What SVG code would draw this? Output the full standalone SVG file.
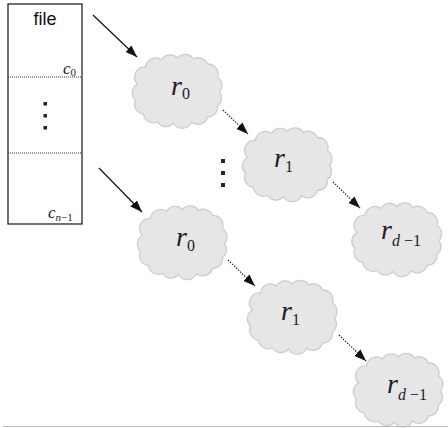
<svg xmlns="http://www.w3.org/2000/svg" width="448" height="428" viewBox="0 0 448 428">
  <style>
    .box { fill: #fff; stroke: #111; stroke-width: 1.2; }
    .sep { stroke: #333; stroke-width: 1; stroke-dasharray: 1 1; }
    .cloud { fill: #e6e6e6; stroke: #cdcdcd; stroke-width: 1.3; }
    .solid { stroke: #111; stroke-width: 1.2; fill: none; }
    .dotted { stroke: #222; stroke-width: 1.2; fill: none; stroke-dasharray: 1.4 1.4; }
    .dot { fill: #23232e; }
    .lbl { font-family: "Liberation Serif", "Times New Roman", serif; fill: #1c1c2a; }
    .var { font-style: italic; }
    .sans { font-family: "Liberation Sans", Arial, sans-serif; fill: #111; }
  </style>
  <defs>
    <marker id="head" viewBox="0 0 12 9" refX="12" refY="4.5" markerWidth="12" markerHeight="9" markerUnits="userSpaceOnUse" orient="auto">
      <path d="M0,0 L12,4.5 L0,9 Z" fill="#111"/>
    </marker>
    <!-- bumpy cloud outline, centred on the origin, about 90 x 74 -->
    <path id="cloud" class="cloud" d="M-40,-6 A10,10 0 0 1 -32,-23 A10,10 0 0 1 -16,-30 A10,10 0 0 1 0,-32 A10,10 0 0 1 16,-31 A10,10 0 0 1 30,-26 A10,10 0 0 1 40,-13 A10,10 0 0 1 42,2 A10,10 0 0 1 40,16 A10,10 0 0 1 30,27 A10,10 0 0 1 14,32 A10,10 0 0 1 -4,33 A10,10 0 0 1 -20,32 A10,10 0 0 1 -34,24 A10,10 0 0 1 -42,10 A10,10 0 0 1 -40,-6 Z"/>
  </defs>

  <!-- file split into chunks c0 .. c(n-1) -->
  <g id="file">
    <rect class="box" x="8" y="4" width="74" height="220"/>
    <text class="sans" x="45" y="25" font-size="18" text-anchor="middle">file</text>
    <line class="sep" x1="8" y1="77" x2="82" y2="77"/>
    <line class="sep" x1="8" y1="153" x2="82" y2="153"/>
    <text class="lbl" x="63" y="74" font-size="17"><tspan class="var">c</tspan><tspan font-size="11" dy="2">0</tspan></text>
    <rect class="dot" x="43.5" y="102" width="3.5" height="3.5"/>
    <rect class="dot" x="43.5" y="114" width="3.5" height="3.5"/>
    <rect class="dot" x="43.5" y="126" width="3.5" height="3.5"/>
    <text class="lbl" x="48" y="218" font-size="17"><tspan class="var">c</tspan><tspan font-size="11" dy="3"><tspan class="var">n</tspan>−1</tspan></text>
  </g>

  <!-- first chain -->
  <g id="chainA-r0">
    <use href="#cloud" x="177.5" y="90"/>
    <text class="lbl" x="171" y="95" font-size="28"><tspan class="var">r</tspan><tspan font-size="16" dy="4">0</tspan></text>
  </g>
  <g id="chainA-r1">
    <use href="#cloud" x="287.5" y="163.5"/>
    <text class="lbl" x="274" y="167" font-size="28"><tspan class="var">r</tspan><tspan font-size="16" dy="5">1</tspan></text>
  </g>
  <g id="chainA-rd1">
    <use href="#cloud" x="397" y="238.5"/>
    <text class="lbl" x="381" y="239" font-size="28"><tspan class="var">r</tspan><tspan font-size="16" dy="7"><tspan class="var">d</tspan> −1</tspan></text>
  </g>

  <!-- vertical ellipsis between chains -->
  <g id="ellipsis">
    <rect class="dot" x="221" y="159" width="4" height="4"/>
    <rect class="dot" x="221" y="171" width="4" height="4"/>
    <rect class="dot" x="221" y="183" width="4" height="4"/>
  </g>

  <!-- last chain -->
  <g id="chainB-r0">
    <use href="#cloud" x="182.5" y="241.5"/>
    <text class="lbl" x="176" y="246" font-size="28"><tspan class="var">r</tspan><tspan font-size="16" dy="5">0</tspan></text>
  </g>
  <g id="chainB-r1">
    <use href="#cloud" x="292.5" y="316"/>
    <text class="lbl" x="281" y="320" font-size="28"><tspan class="var">r</tspan><tspan font-size="16" dy="5">1</tspan></text>
  </g>
  <g id="chainB-rd1">
    <use href="#cloud" x="398.5" y="389"/>
    <text class="lbl" x="387" y="393" font-size="28"><tspan class="var">r</tspan><tspan font-size="16" dy="7"><tspan class="var">d</tspan> −1</tspan></text>
  </g>

  <!-- connectors -->
  <g id="connectors">
    <line class="solid" x1="93" y1="15" x2="137" y2="57" marker-end="url(#head)"/>
    <line class="dotted" x1="223" y1="110" x2="248" y2="134" marker-end="url(#head)"/>
    <line class="dotted" x1="333" y1="182" x2="360" y2="208" marker-end="url(#head)"/>
    <line class="solid" x1="99" y1="168" x2="142" y2="212" marker-end="url(#head)"/>
    <line class="dotted" x1="228" y1="260" x2="255" y2="286" marker-end="url(#head)"/>
    <line class="dotted" x1="339" y1="335" x2="366" y2="361" marker-end="url(#head)"/>
  </g>

  <line x1="3" y1="426.5" x2="448" y2="426.5" stroke="#bdbdbd" stroke-width="1.2"/>
</svg>
